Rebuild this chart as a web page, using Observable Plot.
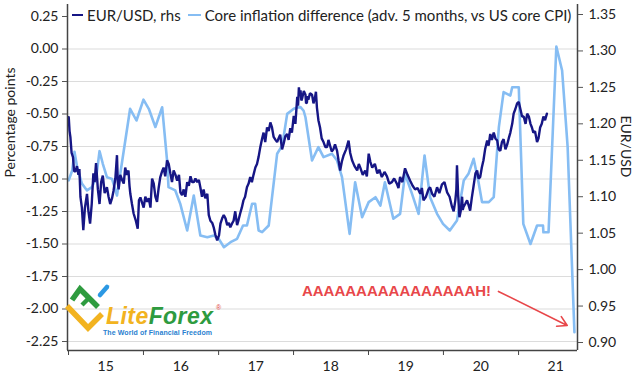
<!DOCTYPE html>
<html><head><meta charset="utf-8">
<script src="https://cdn.jsdelivr.net/npm/d3@7"></script>
<script src="https://cdn.jsdelivr.net/npm/@observablehq/plot@0.6"></script>
<style>
body{margin:0;background:#fff;}
#wrap{position:relative;width:638px;height:378px;overflow:hidden;font-family:Lato,sans-serif;color:#222;}
#legend{position:absolute;left:72px;top:6px;font-size:15px;white-space:nowrap;display:flex;align-items:center;}
#legend .sw{display:inline-block;width:11px;height:2.5px;margin-right:4px;}
#logo{position:absolute;left:0;top:0;pointer-events:none;}
</style></head>
<body><div id="wrap"><div id="chart"></div>
<div id="legend"><span class="sw" style="background:#161685"></span><span>EUR/USD, rhs</span><span class="sw" style="background:#86bdf3;margin-left:7px;width:13px"></span><span>Core inflation difference (adv. 5 months, vs US core CPI)</span></div>
<svg id="logo" width="638" height="378">
 <polyline points="67,306 88,328 102,314" fill="none" stroke="#f2b320" stroke-width="5.5" stroke-linejoin="miter"/>
 <polyline points="72,300 80,289 98,307" fill="none" stroke="#2e9b3f" stroke-width="5.5"/>
 <line x1="82" y1="305" x2="90" y2="297" stroke="#2e9b3f" stroke-width="4.5"/>
 <line x1="100" y1="295" x2="107" y2="287" stroke="#2b98e3" stroke-width="4.5" stroke-linecap="round"/>
 <text x="106" y="324" font-family="Liberation Sans" font-weight="bold" font-style="italic" font-size="23" textLength="107"><tspan fill="#f2b320">Lite</tspan><tspan fill="#2e9b3f">Forex</tspan></text>
 <text x="216" y="310" font-family="Liberation Sans" font-size="7" fill="#e04040">®</text>
 <text x="103" y="335" font-family="Liberation Sans" font-weight="bold" font-size="7" fill="#2a7fd0" textLength="109">The World of Financial Freedom</text>
</svg>
</div>
<script>
// ---- data ----
const infDates = ["2015-01-02","2015-01-19","2015-01-30","2015-02-12","2015-03-07","2015-04-01","2015-04-25","2015-05-16","2015-06-01","2015-06-17","2015-07-07","2015-08-01","2015-08-25","2015-09-10","2015-10-28","2015-11-28","2016-01-01","2016-01-27","2016-02-28","2016-04-01","2016-04-25","2016-05-02","2016-06-04","2016-06-28","2016-08-01","2016-09-02","2016-10-04","2016-11-07","2016-12-09","2017-01-02","2017-01-27","2017-02-28","2017-04-01","2017-04-30","2017-05-19","2017-06-13","2017-06-28","2017-07-15","2017-08-01","2017-09-02","2017-10-13","2017-11-07","2017-12-01","2018-01-02","2018-01-19","2018-02-04","2018-02-19","2018-02-28","2018-04-01","2018-05-02","2018-05-27","2018-07-07","2018-08-01","2018-08-25","2018-10-01","2018-10-28","2018-12-01","2019-01-02","2019-02-04","2019-02-28","2019-03-22","2019-05-02","2019-06-04","2019-06-28","2019-08-01","2019-09-02","2019-10-01","2019-10-28","2019-12-01","2019-12-30","2020-02-01","2020-03-07","2020-04-09","2020-05-02","2020-05-27","2020-06-20","2020-07-07","2020-08-09","2020-09-02","2020-09-27","2020-10-20","2020-11-22","2020-12-01","2021-01-02","2021-01-24","2021-02-28","2021-04-01","2021-04-30","2021-05-02","2021-05-27","2021-07-04","2021-08-01","2021-08-28","2021-09-30"];
const infValues = [-1.01,-0.935,-0.79,-0.909,-1.035,-1.088,-1.063,-0.986,-0.786,-0.883,-0.986,-0.999,-1.127,-0.96,-0.46,-0.55,-0.39,-0.46,-0.60,-0.448,-0.858,-1.063,-1.088,-1.19,-1.396,-1.127,-1.435,-1.448,-1.435,-1.46,-1.525,-1.486,-1.46,-1.358,-1.358,-1.19,-1.19,-1.396,-1.409,-1.358,-0.806,-0.742,-0.499,-0.46,-0.45,-0.447,-0.475,-0.525,-0.858,-0.755,-0.832,-0.806,-0.858,-0.986,-1.422,-1.025,-1.294,-1.178,-1.14,-1.204,-1.025,-1.306,-1.268,-0.96,-1.114,-1.268,-0.819,-1.14,-1.268,-1.345,-1.396,-1.319,-1.012,-0.96,-0.845,-1.025,-1.178,-1.178,-1.14,-0.601,-0.332,-0.358,-0.294,-0.294,-1.345,-1.50,-1.358,-1.358,-1.41,-1.41,0.019,-0.165,-0.755,-2.178];

const eurDates = [
"2015-01-02","2015-01-06","2015-01-10","2015-01-16","2015-01-23","2015-01-28","2015-02-04","2015-02-11","2015-02-18","2015-02-23","2015-02-28","2015-03-07","2015-03-14","2015-03-22","2015-04-01","2015-04-08","2015-04-16","2015-04-24","2015-05-02","2015-05-08","2015-05-15","2015-05-24","2015-06-01","2015-06-09","2015-06-17","2015-06-26","2015-07-07","2015-07-15","2015-07-23","2015-08-01","2015-08-08","2015-08-17","2015-08-25","2015-08-29","2015-09-02","2015-09-10","2015-09-19","2015-09-27","2015-10-04","2015-10-12","2015-10-20","2015-10-25","2015-10-29","2015-11-06","2015-11-14","2015-11-24","2015-12-04","2015-12-10","2015-12-17","2015-12-25",
"2016-01-02","2016-01-10","2016-01-19","2016-01-27","2016-02-04","2016-02-12","2016-02-20","2016-02-28","2016-03-07","2016-03-15","2016-03-23","2016-04-01","2016-04-08","2016-04-16","2016-04-25","2016-05-03","2016-05-11","2016-05-19","2016-05-27","2016-06-05","2016-06-13","2016-06-22","2016-06-29","2016-07-07","2016-07-15","2016-07-23","2016-08-01","2016-08-09","2016-08-17","2016-08-25","2016-09-02","2016-09-10","2016-09-19","2016-09-27","2016-10-04","2016-10-12","2016-10-20","2016-10-28","2016-11-07","2016-11-14","2016-11-22","2016-12-01","2016-12-08","2016-12-16","2016-12-25",
"2017-01-03","2017-01-10","2017-01-18","2017-01-26","2017-02-04","2017-02-12","2017-02-20","2017-02-27","2017-03-07","2017-03-15","2017-03-23","2017-04-01","2017-04-08","2017-04-16","2017-04-24","2017-05-02","2017-05-10","2017-05-19","2017-05-27","2017-06-04","2017-06-12","2017-06-20","2017-06-29","2017-07-07","2017-07-15","2017-07-23","2017-08-01","2017-08-08","2017-08-16","2017-08-25","2017-09-02","2017-09-10","2017-09-18","2017-09-26","2017-10-05","2017-10-13","2017-10-20","2017-10-28","2017-11-06","2017-11-14","2017-11-22","2017-12-01","2017-12-08","2017-12-16","2017-12-24",
"2018-01-02","2018-01-10","2018-01-19","2018-01-23","2018-01-27","2018-02-01","2018-02-04","2018-02-08","2018-02-12","2018-02-20","2018-02-28","2018-03-03","2018-03-07","2018-03-10","2018-03-14","2018-03-22","2018-04-01","2018-04-08","2018-04-16","2018-04-20","2018-04-25","2018-05-02","2018-05-10","2018-05-18","2018-05-27","2018-06-05","2018-06-13","2018-06-20","2018-06-28","2018-07-06","2018-07-14","2018-07-22","2018-08-01","2018-08-08","2018-08-16","2018-08-24","2018-09-02","2018-09-14","2018-09-26","2018-10-04","2018-10-13","2018-10-25","2018-11-07","2018-11-15","2018-11-22","2018-12-04","2018-12-16","2018-12-24",
"2019-01-02","2019-01-10","2019-01-19","2019-02-01","2019-02-13","2019-02-23","2019-03-07","2019-03-20","2019-04-01","2019-04-12","2019-04-25","2019-05-06","2019-05-19","2019-05-27","2019-06-04","2019-06-15","2019-06-28","2019-07-10","2019-07-23","2019-08-04","2019-08-16","2019-08-28","2019-09-10","2019-09-18","2019-09-26","2019-10-08","2019-10-20","2019-10-28","2019-11-07","2019-11-18","2019-12-01","2019-12-12","2019-12-25",
"2020-01-06","2020-01-19","2020-01-31","2020-02-12","2020-02-20","2020-02-28","2020-03-04","2020-03-07","2020-03-13","2020-03-19","2020-03-25","2020-04-01","2020-04-04","2020-04-08","2020-04-16","2020-04-25","2020-05-03","2020-05-10","2020-05-18","2020-05-27","2020-06-05","2020-06-13","2020-06-20","2020-06-28","2020-07-06","2020-07-14","2020-07-22","2020-08-01","2020-08-08","2020-08-16","2020-08-24","2020-09-02","2020-09-10","2020-09-19","2020-09-26","2020-10-04","2020-10-12","2020-10-20","2020-10-29","2020-11-07","2020-11-14","2020-11-22","2020-12-01","2020-12-08","2020-12-16","2020-12-25",
"2021-01-02","2021-01-10","2021-01-18","2021-01-26","2021-02-04","2021-02-12","2021-02-20","2021-02-28","2021-03-07","2021-03-14","2021-03-22","2021-04-01","2021-04-08","2021-04-16","2021-04-24","2021-05-02","2021-05-10","2021-05-19"];
const eurValues = [
1.209,1.19,1.182,1.16,1.154,1.135,1.135,1.142,1.13,1.138,1.10,1.085,1.054,1.085,1.104,1.08,1.063,1.09,1.132,1.12,1.146,1.11,1.09,1.12,1.129,1.105,1.113,1.10,1.09,1.098,1.108,1.125,1.157,1.12,1.11,1.13,1.123,1.118,1.14,1.13,1.136,1.115,1.104,1.09,1.077,1.068,1.056,1.095,1.099,1.092,
1.085,1.10,1.093,1.098,1.085,1.125,1.118,1.10,1.093,1.112,1.127,1.135,1.14,1.128,1.15,1.145,1.132,1.12,1.136,1.13,1.122,1.13,1.106,1.102,1.11,1.10,1.12,1.115,1.128,1.12,1.12,1.125,1.12,1.123,1.113,1.10,1.11,1.098,1.104,1.075,1.067,1.064,1.058,1.048,1.04,
1.047,1.063,1.07,1.075,1.07,1.061,1.064,1.058,1.063,1.067,1.08,1.061,1.068,1.077,1.085,1.095,1.10,1.113,1.118,1.127,1.12,1.13,1.14,1.145,1.155,1.168,1.18,1.188,1.175,1.195,1.19,1.202,1.195,1.182,1.178,1.175,1.18,1.185,1.165,1.173,1.183,1.186,1.178,1.194,1.188,
1.211,1.20,1.237,1.225,1.25,1.238,1.246,1.232,1.235,1.245,1.24,1.228,1.229,1.238,1.233,1.242,1.24,1.228,1.237,1.244,1.222,1.205,1.195,1.18,1.175,1.168,1.168,1.178,1.17,1.162,1.165,1.172,1.163,1.15,1.136,1.148,1.157,1.165,1.177,1.16,1.15,1.142,1.136,1.145,1.14,1.13,1.136,1.128,
1.159,1.148,1.14,1.145,1.132,1.137,1.127,1.134,1.128,1.118,1.12,1.125,1.118,1.112,1.127,1.12,1.139,1.13,1.122,1.115,1.11,1.112,1.104,1.112,1.095,1.10,1.11,1.113,1.104,1.10,1.113,1.105,1.117,
1.12,1.106,1.10,1.086,1.08,1.095,1.11,1.143,1.10,1.072,1.08,1.10,1.082,1.086,1.09,1.095,1.088,1.081,1.098,1.115,1.132,1.136,1.125,1.127,1.14,1.15,1.165,1.177,1.17,1.186,1.178,1.188,1.18,1.177,1.165,1.163,1.175,1.179,1.165,1.172,1.18,1.188,1.20,1.214,1.22,1.228,
1.23,1.22,1.21,1.21,1.20,1.214,1.21,1.20,1.195,1.188,1.19,1.175,1.18,1.195,1.20,1.21,1.205,1.214];

const leftTicks = [0.25,0,-0.25,-0.5,-0.75,-1,-1.25,-1.5,-1.75,-2,-2.25];
const gridTicks = [0,-0.25,-0.5,-0.75,-1,-1.25,-1.5,-1.75,-2,-2.25];
const rightTicks = [0.90,0.95,1.00,1.05,1.10,1.15,1.20,1.25,1.30,1.35];
const yearLabels = ["15","16","17","18","19","20","21"];
const yearStarts = ["2015-01-01","2016-01-01","2017-01-01","2018-01-01","2019-01-01","2020-01-01","2021-01-01"];
const yearMids = ["2015-07-01","2016-07-01","2017-07-01","2018-07-01","2019-07-01","2020-07-01","2021-07-01"];
const annotText = ["AAAAAAAAAAAAAAAAH!"];
const annotArrow = [{x1:"2020-09-25", y1:-1.865, x2:"2021-08-26", y2:-2.127}];
const annotTextPos = [{x:"2020-08-20", y:-1.865}];

// ---- mapping EUR/USD (rhs) onto lhs scale ----
const toLeft = r => 0.26538 - (1.35 - r) * 5.6069;
const fromLeft = l => (l - 0.26538) / 5.6069 + 1.35;

const P = s => new Date(s);
const inf = infDates.map((d,i)=>({date:P(d), value:infValues[i]}));
const eur = eurDates.map((d,i)=>({date:P(d), value:eurValues[i]}));
const ink = "#222";
const red = "#e8474a";

const chart = Plot.plot({
  width: 638, height: 378,
  marginLeft: 67, marginRight: 61, marginTop: 4, marginBottom: 28,
  style: {fontFamily: "Lato, sans-serif", fontSize: "14px", color: ink, background: "#fff"},
  x: {type: "utc", domain: [P("2014-12-27"), P("2021-10-15")]},
  y: {domain: [-2.31923, 0.34231]},
  marks: [
    Plot.gridY(gridTicks, {stroke: "#dcdcdc", strokeOpacity: 1, strokeWidth: 1.2}),
    Plot.line(inf, {x: "date", y: "value", stroke: "#86bdf3", strokeWidth: 2.6}),
    Plot.line(eur, {x: "date", y: d => toLeft(d.value), stroke: "#161685", strokeWidth: 2.4, strokeLinejoin: "miter"}),
    Plot.ruleX([P("2014-12-27")], {stroke: "#444", strokeWidth: 1.5}),
    Plot.ruleX([P("2021-10-15")], {stroke: "#444", strokeWidth: 1.5}),
    Plot.ruleY([-2.31923], {stroke: "#444", strokeWidth: 1.5}),
    Plot.axisY({ticks: leftTicks, tickSize: 5, tickPadding: 4, tickFormat: d => d.toFixed(2), label: null, stroke: "#555", fontSize: 14}),
    Plot.axisY({anchor: "right", ticks: rightTicks.map(toLeft), tickSize: 5, tickPadding: 6, tickFormat: d => fromLeft(d).toFixed(2), label: null, stroke: "#555", fontSize: 14}),
    Plot.axisX({ticks: yearStarts.map(P), tickSize: 5, tickFormat: () => "", label: null, stroke: "#444"}),
    Plot.axisX({ticks: yearMids.map(P), tickSize: 0, tickPadding: 11, tickFormat: (d) => yearLabels[yearMids.findIndex(m => +P(m) === +d)], label: null, fontSize: 14}),
    Plot.text(["Percentage points"], {frameAnchor: "left", dx: -57, rotate: -90, fontSize: 14, fill: ink}),
    Plot.text(["EUR/USD"], {frameAnchor: "right", dx: 48, rotate: 90, fontSize: 14, fill: ink}),
    Plot.arrow(annotArrow, {x1: d => P(d.x1), y1: "y1", x2: d => P(d.x2), y2: "y2", stroke: red, strokeWidth: 1.6, headLength: 10, bend: 0}),
    Plot.text(annotTextPos, {x: d => P(d.x), y: "y", text: () => annotText[0], textAnchor: "end", fill: red, fontWeight: "bold", fontSize: 15, fontFamily: "Liberation Sans"})
  ]
});
document.getElementById("chart").appendChild(chart);
</script>
</body></html>
